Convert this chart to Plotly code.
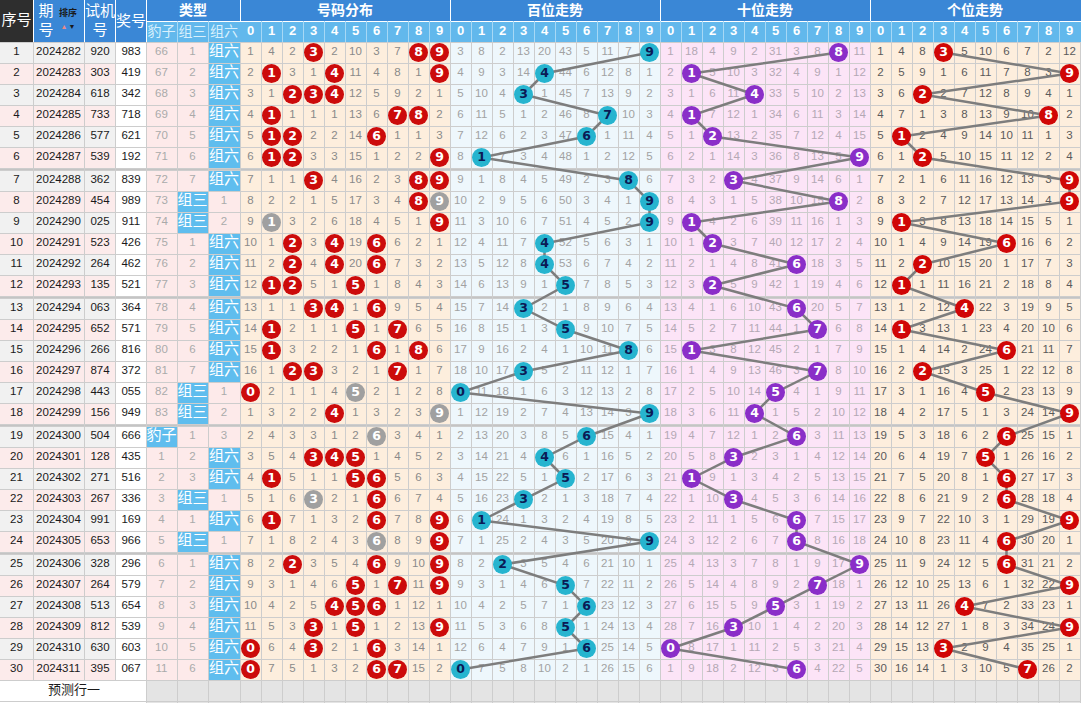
import plotly.graph_objects as go

# ---------------- data ----------------
seq = list(range(1, 31))
issues = ["2024282", "2024283", "2024284", "2024285", "2024286", "2024287", "2024288", "2024289",
          "2024290", "2024291", "2024292", "2024293", "2024294", "2024295", "2024296", "2024297",
          "2024298", "2024299", "2024300", "2024301", "2024302", "2024303", "2024304", "2024305",
          "2024306", "2024307", "2024308", "2024309", "2024310", "2024311"]
trial = ["920", "303", "618", "733", "577", "539", "362", "454", "025", "523", "264", "135", "063", "652",
         "266", "874", "443", "156", "504", "128", "271", "267", "991", "653", "328", "264", "513", "812",
         "630", "395"]
draws = ["983", "419", "342", "718", "621", "192", "839", "989", "911", "426", "462", "521", "364", "571",
         "816", "372", "055", "949", "666", "435", "516", "336", "169", "966", "296", "579", "654", "539",
         "603", "067"]
type_names = ["豹子", "组三", "组六"]
# omission per type (0 = hit this draw)
baozi_miss = [66, 67, 68, 69, 70, 71, 72, 73, 74, 75, 76, 77, 78, 79, 80, 81, 82, 83, 0, 1, 2, 3, 4, 5, 6, 7, 8, 9, 10, 11]
zusan_miss = [1, 2, 3, 4, 5, 6, 7, 0, 0, 1, 2, 3, 4, 5, 6, 7, 0, 0, 1, 2, 3, 0, 1, 0, 1, 2, 3, 4, 5, 6]
zuliu_miss = [0, 0, 0, 0, 0, 0, 0, 1, 2, 0, 0, 0, 0, 0, 0, 0, 1, 2, 3, 0, 0, 1, 0, 1, 0, 0, 0, 0, 0, 0]

# 号码分布 omission (0 = digit drawn)
dist_miss = [
    [1, 4, 2, 0, 2, 10, 3, 7, 0, 0], [2, 0, 3, 1, 0, 11, 4, 8, 1, 0], [3, 1, 0, 0, 0, 12, 5, 9, 2, 1],
    [4, 0, 1, 1, 1, 13, 6, 0, 0, 2], [5, 0, 0, 2, 2, 14, 0, 1, 1, 3], [6, 0, 0, 3, 3, 15, 1, 2, 2, 0],
    [7, 1, 1, 0, 4, 16, 2, 3, 0, 0], [8, 2, 2, 1, 5, 17, 3, 4, 0, 0], [9, 0, 3, 2, 6, 18, 4, 5, 1, 0],
    [10, 1, 0, 3, 0, 19, 0, 6, 2, 1], [11, 2, 0, 4, 0, 20, 0, 7, 3, 2], [12, 0, 0, 5, 1, 0, 1, 8, 4, 3],
    [13, 1, 1, 0, 0, 1, 0, 9, 5, 4], [14, 0, 2, 1, 1, 0, 1, 0, 6, 5], [15, 0, 3, 2, 2, 1, 0, 1, 0, 6],
    [16, 1, 0, 0, 3, 2, 1, 0, 1, 7], [0, 2, 1, 1, 4, 0, 2, 1, 2, 8], [1, 3, 2, 2, 0, 1, 3, 2, 3, 0],
    [2, 4, 3, 3, 1, 2, 0, 3, 4, 1], [3, 5, 4, 0, 0, 0, 1, 4, 5, 2], [4, 0, 5, 1, 1, 0, 0, 5, 6, 3],
    [5, 1, 6, 0, 2, 1, 0, 6, 7, 4], [6, 0, 7, 1, 3, 2, 0, 7, 8, 0], [7, 1, 8, 2, 4, 3, 0, 8, 9, 0],
    [8, 2, 0, 3, 5, 4, 0, 9, 10, 0], [9, 3, 1, 4, 6, 0, 1, 0, 11, 0], [10, 4, 2, 5, 0, 0, 0, 1, 12, 1],
    [11, 5, 3, 0, 1, 0, 1, 2, 13, 0], [0, 6, 4, 0, 2, 1, 0, 3, 14, 1], [0, 7, 5, 1, 3, 2, 0, 0, 15, 2]]
# 百位走势 omission
bai_miss = [
    [3, 8, 2, 13, 20, 43, 5, 11, 7, 0], [4, 9, 3, 14, 0, 44, 6, 12, 8, 1], [5, 10, 4, 0, 1, 45, 7, 13, 9, 2],
    [6, 11, 5, 1, 2, 46, 8, 0, 10, 3], [7, 12, 6, 2, 3, 47, 0, 1, 11, 4], [8, 0, 7, 3, 4, 48, 1, 2, 12, 5],
    [9, 1, 8, 4, 5, 49, 2, 3, 0, 6], [10, 2, 9, 5, 6, 50, 3, 4, 1, 0], [11, 3, 10, 6, 7, 51, 4, 5, 2, 0],
    [12, 4, 11, 7, 0, 52, 5, 6, 3, 1], [13, 5, 12, 8, 0, 53, 6, 7, 4, 2], [14, 6, 13, 9, 1, 0, 7, 8, 5, 3],
    [15, 7, 14, 0, 2, 1, 8, 9, 6, 4], [16, 8, 15, 1, 3, 0, 9, 10, 7, 5], [17, 9, 16, 2, 4, 1, 10, 11, 0, 6],
    [18, 10, 17, 0, 5, 2, 11, 12, 1, 7], [0, 11, 18, 1, 6, 3, 12, 13, 2, 8], [1, 12, 19, 2, 7, 4, 13, 14, 3, 0],
    [2, 13, 20, 3, 8, 5, 0, 15, 4, 1], [3, 14, 21, 4, 0, 6, 1, 16, 5, 2], [4, 15, 22, 5, 1, 0, 2, 17, 6, 3],
    [5, 16, 23, 0, 2, 1, 3, 18, 7, 4], [6, 0, 24, 1, 3, 2, 4, 19, 8, 5], [7, 1, 25, 2, 4, 3, 5, 20, 9, 0],
    [8, 2, 0, 3, 5, 4, 6, 21, 10, 1], [9, 3, 1, 4, 6, 0, 7, 22, 11, 2], [10, 4, 2, 5, 7, 1, 0, 23, 12, 3],
    [11, 5, 3, 6, 8, 0, 1, 24, 13, 4], [12, 6, 4, 7, 9, 1, 0, 25, 14, 5], [0, 7, 5, 8, 10, 2, 1, 26, 15, 6]]
# 十位走势 omission
shi_miss = [
    [1, 18, 4, 9, 2, 31, 3, 8, 0, 11], [2, 0, 5, 10, 3, 32, 4, 9, 1, 12], [3, 1, 6, 11, 0, 33, 5, 10, 2, 13],
    [4, 0, 7, 12, 1, 34, 6, 11, 3, 14], [5, 1, 0, 13, 2, 35, 7, 12, 4, 15], [6, 2, 1, 14, 3, 36, 8, 13, 5, 0],
    [7, 3, 2, 0, 4, 37, 9, 14, 6, 1], [8, 4, 3, 1, 5, 38, 10, 15, 0, 2], [9, 0, 4, 2, 6, 39, 11, 16, 1, 3],
    [10, 1, 0, 3, 7, 40, 12, 17, 2, 4], [11, 2, 1, 4, 8, 41, 0, 18, 3, 5], [12, 3, 0, 5, 9, 42, 1, 19, 4, 6],
    [13, 4, 1, 6, 10, 43, 0, 20, 5, 7], [14, 5, 2, 7, 11, 44, 1, 0, 6, 8], [15, 0, 3, 8, 12, 45, 2, 1, 7, 9],
    [16, 1, 4, 9, 13, 46, 3, 0, 8, 10], [17, 2, 5, 10, 14, 0, 4, 1, 9, 11], [18, 3, 6, 11, 0, 1, 5, 2, 10, 12],
    [19, 4, 7, 12, 1, 2, 0, 3, 11, 13], [20, 5, 8, 0, 2, 3, 1, 4, 12, 14], [21, 0, 9, 1, 3, 4, 2, 5, 13, 15],
    [22, 1, 10, 0, 4, 5, 3, 6, 14, 16], [23, 2, 11, 1, 5, 6, 0, 7, 15, 17], [24, 3, 12, 2, 6, 7, 0, 8, 16, 18],
    [25, 4, 13, 3, 7, 8, 1, 9, 17, 0], [26, 5, 14, 4, 8, 9, 2, 0, 18, 1], [27, 6, 15, 5, 9, 0, 3, 1, 19, 2],
    [28, 7, 16, 0, 10, 1, 4, 2, 20, 3], [0, 8, 17, 1, 11, 2, 5, 3, 21, 4], [1, 9, 18, 2, 12, 3, 0, 4, 22, 5]]
# 个位走势 omission
ge_miss = [
    [1, 4, 8, 0, 5, 10, 6, 7, 2, 12], [2, 5, 9, 1, 6, 11, 7, 8, 3, 0], [3, 6, 0, 2, 7, 12, 8, 9, 4, 1],
    [4, 7, 1, 3, 8, 13, 9, 10, 0, 2], [5, 0, 2, 4, 9, 14, 10, 11, 1, 3], [6, 1, 0, 5, 10, 15, 11, 12, 2, 4],
    [7, 2, 1, 6, 11, 16, 12, 13, 3, 0], [8, 3, 2, 7, 12, 17, 13, 14, 4, 0], [9, 0, 3, 8, 13, 18, 14, 15, 5, 1],
    [10, 1, 4, 9, 14, 19, 0, 16, 6, 2], [11, 2, 0, 10, 15, 20, 1, 17, 7, 3], [12, 0, 1, 11, 16, 21, 2, 18, 8, 4],
    [13, 1, 2, 12, 0, 22, 3, 19, 9, 5], [14, 0, 3, 13, 1, 23, 4, 20, 10, 6], [15, 1, 4, 14, 2, 24, 0, 21, 11, 7],
    [16, 2, 0, 15, 3, 25, 1, 22, 12, 8], [17, 3, 1, 16, 4, 0, 2, 23, 13, 9], [18, 4, 2, 17, 5, 1, 3, 24, 14, 0],
    [19, 5, 3, 18, 6, 2, 0, 25, 15, 1], [20, 6, 4, 19, 7, 0, 1, 26, 16, 2], [21, 7, 5, 20, 8, 1, 0, 27, 17, 3],
    [22, 8, 6, 21, 9, 2, 0, 28, 18, 4], [23, 9, 7, 22, 10, 3, 1, 29, 19, 0], [24, 10, 8, 23, 11, 4, 0, 30, 20, 1],
    [25, 11, 9, 24, 12, 5, 0, 31, 21, 2], [26, 12, 10, 25, 13, 6, 1, 32, 22, 0], [27, 13, 11, 26, 0, 7, 2, 33, 23, 1],
    [28, 14, 12, 27, 1, 8, 3, 34, 24, 0], [29, 15, 13, 0, 2, 9, 4, 35, 25, 1], [30, 16, 14, 1, 3, 10, 5, 0, 26, 2]]

section_titles = ["号码分布", "百位走势", "十位走势", "个位走势"]
digits = [str(d) for d in range(10)]
predict_label = "预测行一"

# ---------------- layout geometry ----------------
W, H = 1081, 703
LEFT_EDGES = [0, 33, 84, 115, 146, 177, 208, 240]
DW = 21
SEC_X0 = [240, 450, 660, 870]
HDR1, HDR2 = 21, 42
RH = 21
N = len(draws)
CJK = "Noto Sans CJK SC"
NUMF = "Liberation Sans"


def row_top(i):
    return HDR2 + i * RH + (i // 6) * 2


def row_mid(i):
    return row_top(i) + RH / 2


def dmid(sec, d):
    return SEC_X0[sec] + d * DW + DW / 2


BODY_BOTTOM = row_top(N - 1) + RH
shapes = []


def rect(x0, y0, x1, y1, color, layer="below"):
    shapes.append(dict(type="rect", xref="x", yref="y", x0=x0, y0=y0, x1=x1, y1=y1,
                       fillcolor=color, line=dict(width=0), layer=layer))


# header backgrounds
rect(0, 0, 33, HDR2, "#2e2e2e")
rect(33, 0, 146, HDR2, "#3a87d6")
rect(146, 0, W, HDR1, "#3a87d6")
rect(146, HDR1, W, HDR2, "#62b8ec")

# body backgrounds
sec_colors = ["#fdeedd", "#eef7fc", "#fce4f7", "#fdeedd"]
for i in range(N):
    y0, y1 = row_top(i), row_top(i) + RH
    rect(0, y0, 115, y1, "#f1f1f1" if i % 2 == 0 else "#fcebeb")
    rect(115, y0, 146, y1, "#ffffff")
    rect(146, y0, 240, y1, "#fdeaea")
    for s in range(4):
        rect(SEC_X0[s], y0, SEC_X0[s] + 10 * DW + (1 if s == 3 else 0), y1, sec_colors[s])
# separators
for g in range(1, 5):
    yb = row_top(6 * g - 1) + RH
    rect(0, yb, W, yb + 2, "#c4c4c4")
# prediction row
rect(0, BODY_BOTTOM, 146, H, "#ffffff")
rect(146, BODY_BOTTOM, W, H, "#e4e4e4")

# type hit cells
type_miss = [baozi_miss, zusan_miss, zuliu_miss]
for i in range(N):
    for t in range(3):
        if type_miss[t][i] == 0:
            rect(LEFT_EDGES[4 + t] + 1, row_top(i) + 1, LEFT_EDGES[5 + t], row_top(i) + RH, "#5fbdee")

# ---------------- grid lines ----------------
gx, gy = [], []
vlines = LEFT_EDGES[1:] + [SEC_X0[0] + k * DW for k in range(1, 41)]
for x in vlines:
    gx += [x + 0.5, x + 0.5, None]
    gy += [HDR2, BODY_BOTTOM, None]
    if x >= 146:
        gx += [x + 0.5, x + 0.5, None]
        gy += [BODY_BOTTOM, H, None]
for i in range(N):
    for yy in (row_top(i), row_top(i) + RH):
        gx += [0, W, None]
        gy += [yy + 0.5, yy + 0.5, None]
gx += [0, W, None]
gy += [H - 1.5, H - 1.5, None]

traces = []
traces.append(go.Scatter(x=gx, y=gy, mode="lines", line=dict(color="#cdcdcd", width=1),
                         hoverinfo="skip", showlegend=False))

# header light dividers
hx, hy = [], []
for x in [146, 240, 450, 660, 870]:
    hx += [x + 0.5, x + 0.5, None]
    hy += [0, HDR1, None]
for x in [33, 84, 115, 146]:
    hx += [x + 0.5, x + 0.5, None]
    hy += [0, HDR2, None]
hx += [146, W, None]
hy += [HDR1 + 0.5, HDR1 + 0.5, None]
traces.append(go.Scatter(x=hx, y=hy, mode="lines", line=dict(color="#ffffff", width=1),
                         hoverinfo="skip", showlegend=False))
sx, sy = [], []
for x in [177, 208] + [SEC_X0[0] + k * DW for k in range(1, 40)]:
    sx += [x + 0.5, x + 0.5, None]
    sy += [HDR1, HDR2, None]
traces.append(go.Scatter(x=sx, y=sy, mode="lines", line=dict(color="#a7d8f5", width=1),
                         hoverinfo="skip", showlegend=False))


def text_trace(xs, ys, ts, color, size, family=NUMF, bold=False):
    if bold:
        ts = ["<b>%s</b>" % t for t in ts]
    return go.Scatter(x=xs, y=ys, text=ts, mode="text", textposition="middle center",
                      textfont=dict(color=color, size=size, family=family),
                      hoverinfo="skip", showlegend=False)


# header texts
traces.append(text_trace([16.5], [21], ["序号"], "#ffffff", 15, CJK))
traces.append(text_trace([46, 46, 100, 100, 131], [12, 31, 12, 31, 22],
                         ["期", "号", "试机", "号", "奖号"], "#ffffff", 15, CJK))
traces.append(text_trace([68], [14], ["排序"], "#1a1a1a", 9, CJK, bold=True))
traces.append(text_trace([64], [27], ["▲"], "#e88a8a", 7))
traces.append(text_trace([72], [27], ["▼"], "#1a1a1a", 7))
traces.append(text_trace([193] + [SEC_X0[s] + 105 for s in range(4)], [11] * 5,
                         ["类型"] + section_titles, "#ffffff", 14, CJK, bold=True))
traces.append(text_trace([161.5, 192.5, 224], [32] * 3, type_names, "#d9f0fc", 14, CJK))
traces.append(text_trace([dmid(s, d) for s in range(4) for d in range(10)], [32] * 40,
                         digits * 4, "#ffffff", 13, NUMF, bold=True))

# body left columns
ys = [row_mid(i) for i in range(N)]
traces.append(text_trace([16.5] * N, ys, [str(v) for v in seq], "#1a1a1a", 11.5))
traces.append(text_trace([58.5] * N, ys, issues, "#1a1a1a", 11.5))
traces.append(text_trace([100] * N, ys, trial, "#1a1a1a", 11.5))
traces.append(text_trace([131] * N, ys, draws, "#1a1a1a", 11.5))
traces.append(text_trace([74], [BODY_BOTTOM + 11], [predict_label], "#1a1a1a", 13, CJK))

# type columns
tcx = [161.5, 192.5, 224]
mx, my, mt, hx2, hy2, ht = [], [], [], [], [], []
for i in range(N):
    for t in range(3):
        v = type_miss[t][i]
        if v == 0:
            hx2.append(tcx[t]); hy2.append(row_mid(i)); ht.append(type_names[t])
        else:
            mx.append(tcx[t]); my.append(row_mid(i)); mt.append(str(v))
traces.append(text_trace(mx, my, mt, "#aaaaaa", 11.5))
traces.append(text_trace(hx2, hy2, ht, "#ffffff", 15, CJK))

# section omissions
mats = [dist_miss, bai_miss, shi_miss, ge_miss]
miss_colors = ["#8a8a8a", "#a2a2a2", "#b4a8b4", "#5a5a5a"]
for s in range(4):
    xs_, ys_, ts_ = [], [], []
    for i in range(N):
        for d in range(10):
            v = mats[s][i][d]
            if v != 0:
                xs_.append(dmid(s, d)); ys_.append(row_mid(i)); ts_.append(str(v))
    traces.append(text_trace(xs_, ys_, ts_, miss_colors[s], 11.5))

# trend lines for positions
for s in range(1, 4):
    lx = [dmid(s, mats[s][i].index(0)) for i in range(N)]
    traces.append(go.Scatter(x=lx, y=ys, mode="lines", line=dict(color="#7d7d7d", width=2.5),
                             hoverinfo="skip", showlegend=False))

# balls
ball_colors = ["#cc0b0b", "#26b4cf", "#8a2ec8", "#d00606"]
ball_text = ["#ffffff", "#0b1a55", "#ffffff", "#ffffff"]
for s in range(4):
    bx, by, bt, bc = [], [], [], []
    for i in range(N):
        for d in range(10):
            if mats[s][i][d] == 0:
                bx.append(dmid(s, d)); by.append(row_mid(i)); bt.append("<b>%d</b>" % d)
                if s == 0 and draws[i].count(str(d)) > 1:
                    bc.append("#a0a0a0")
                else:
                    bc.append(ball_colors[s])
    traces.append(go.Scatter(x=bx, y=by, mode="markers+text", text=bt, textposition="middle center",
                             marker=dict(size=19, color=bc, line=dict(width=0)),
                             textfont=dict(color=ball_text[s], size=12.5, family="DejaVu Sans"),
                             hoverinfo="skip", showlegend=False))

fig = go.Figure(traces)
fig.update_layout(width=W, height=H, margin=dict(l=0, r=0, t=0, b=0),
                  paper_bgcolor="#ffffff", plot_bgcolor="#ffffff", shapes=shapes,
                  xaxis=dict(range=[0, W], visible=False, fixedrange=True),
                  yaxis=dict(range=[H, 0], visible=False, fixedrange=True),
                  showlegend=False)
fig.write_html("out.html", config=dict(displayModeBar=False),
               post_script="document.body.style.margin='0';document.body.style.overflow='hidden';")
